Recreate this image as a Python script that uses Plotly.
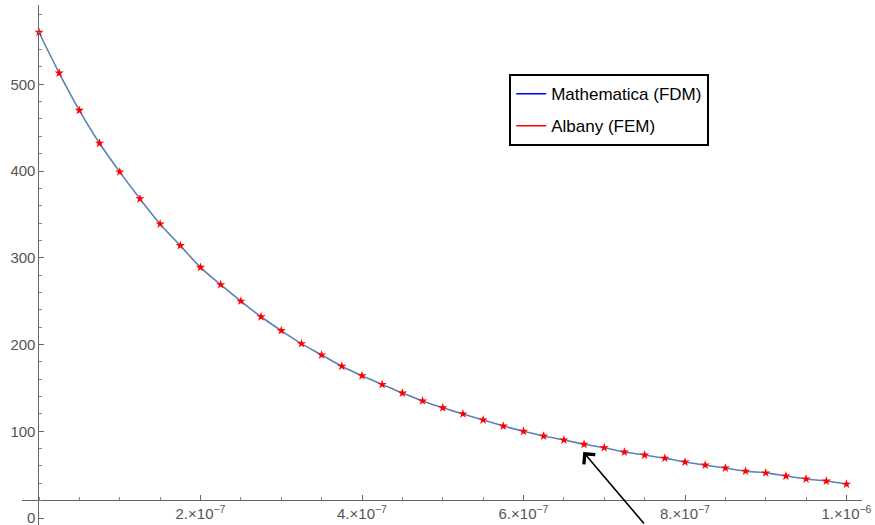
import plotly.graph_objects as go

# sample positions (m) and values
x_vals = [i * 2.5e-8 for i in range(41)]
y_vals = [560, 513, 470, 432, 399, 368, 339, 314, 289, 269,
          250, 232, 216, 201, 188, 175, 164, 154, 144, 135,
          127, 120, 113, 106, 100, 94.5, 90, 85, 81, 76,
          72.6, 69, 64.5, 61, 57.6, 54, 52, 48.4, 45, 42.6, 39]

x_tickvals = [2e-7, 4e-7, 6e-7, 8e-7, 1e-6]
x_ticktext = ["2.×10<sup>−7</sup>", "4.×10<sup>−7</sup>", "6.×10<sup>−7</sup>",
              "8.×10<sup>−7</sup>", "1.×10<sup>−6</sup>"]
y_tickvals = [0, 100, 200, 300, 400, 500]
y_ticktext = ["0", "100", "200", "300", "400", "500"]

series_names = ["Mathematica (FDM)", "Albany (FEM)"]

fig = go.Figure()
fig.add_trace(go.Scatter(x=x_vals, y=y_vals, mode="lines",
                         line=dict(color="#5E81B5", width=1.6, shape="spline"),
                         showlegend=False))
fig.add_trace(go.Scatter(x=x_vals, y=y_vals, mode="markers",
                         marker=dict(symbol="star", size=7, color="red",
                                     line=dict(width=0)),
                         showlegend=False))
# legend entries (drawn as plain lines, like the reference)
fig.add_trace(go.Scatter(x=[None], y=[None], mode="lines", name=series_names[0],
                         line=dict(color="blue", width=1.5), legendgroup="a"))
fig.add_trace(go.Scatter(x=[None], y=[None], mode="lines", name=series_names[1],
                         line=dict(color="red", width=1.5), legendgroup="b"))

fig.add_annotation(x=6.74e-7, y=76, xref="x", yref="y", text="",
                   showarrow=True, arrowhead=4, arrowsize=1.8, arrowwidth=1.6,
                   arrowcolor="black", ax=62, ay=80)

tick_font = dict(family="Liberation Sans, Arial, sans-serif", size=15, color="#555555")

fig.update_layout(
    width=875, height=525,
    margin=dict(l=22, r=13, t=5, b=0, autoexpand=False),
    plot_bgcolor="white", paper_bgcolor="white",
    xaxis=dict(range=[-2.105e-8, 1.0192e-6], anchor="free", position=0.048,
               tickvals=x_tickvals, ticktext=x_ticktext, ticks="inside",
               ticklen=5, tickcolor="#666666", tickwidth=1,
               showline=True, linecolor="#666666", linewidth=1,
               showgrid=False, zeroline=False, tickfont=tick_font,
               ticklabeloverflow="allow",
               minor=dict(dtick=5e-8, tick0=0, ticks="inside", ticklen=3,
                          tickcolor="#888888", showgrid=False),
               automargin=False),
    yaxis=dict(range=[-8.07, 591.4], anchor="free", position=0.0196,
               tickvals=y_tickvals, ticktext=y_ticktext, ticks="inside",
               ticklen=5, tickcolor="#666666", tickwidth=1,
               showline=True, linecolor="#666666", linewidth=1,
               showgrid=False, zeroline=False, tickfont=tick_font,
               ticklabeloverflow="allow",
               minor=dict(dtick=20, tick0=0, ticks="inside", ticklen=3,
                          tickcolor="#888888", showgrid=False),
               automargin=False),
    legend=dict(x=0.58, y=0.867, xanchor="left", yanchor="top",
                bgcolor="white", bordercolor="black", borderwidth=2,
                font=dict(family="Liberation Sans, Arial, sans-serif", size=17,
                          color="black"),
                tracegroupgap=7, traceorder="grouped", itemwidth=30),
)

fig.write_html("out.html", config={"displayModeBar": False},
               post_script="document.body.style.margin='0px';")
